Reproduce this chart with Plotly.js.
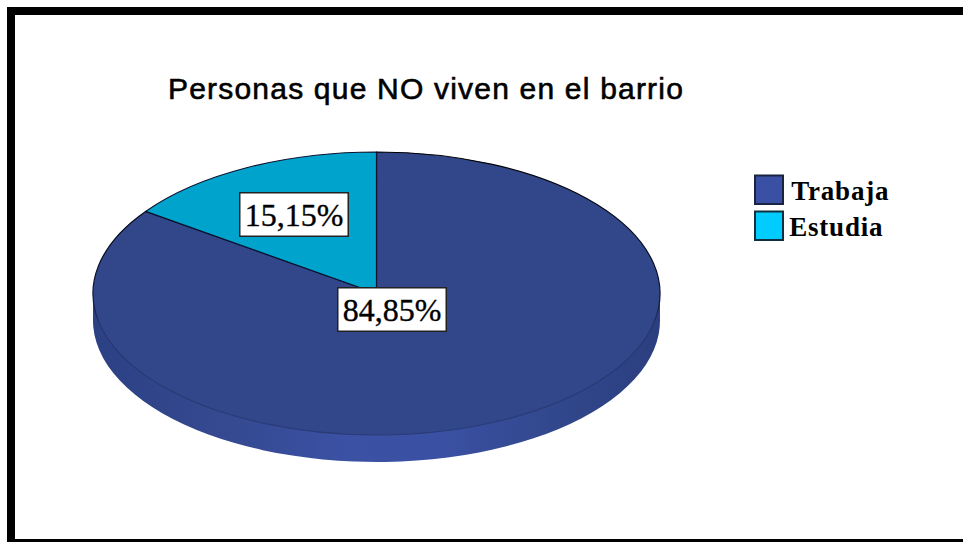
<!DOCTYPE html>
<html>
<head>
<meta charset="utf-8">
<script src="https://cdn.plot.ly/plotly-3.0.1.min.js"></script>
<style>
html,body{margin:0;padding:0;background:#fff;overflow:hidden}
#chart{width:963px;height:542px}
</style>
</head>
<body>
<div id="chart"></div>
<script>
const chartTitle = 'Personas que NO viven en el barrio';
const categories = ['Trabaja', 'Estudia'];
const shares = [84.85, 15.15];
const topColors = ['#31478a', '#00a3cc'];
const legendColors = ['#3a50a5', '#00ccff'];

const W = 963, H = 542;
const px = x => x / W, py = y => 1 - y / H;
const cx = 376.5, cy = 293.5, rx = 283.5, ry = 141.5, depth = 27;

const fmt = v => v.toFixed(2).replace('.', ',') + '%';
const pieDomain = yc => ({
  x: [px(cx - ry), px(cx + ry)],
  y: [py(yc + ry), py(yc - ry)]
});
const rect = (x0, y0, x1, y1, fill, line, layer) => ({
  type: 'rect', xref: 'paper', yref: 'paper',
  x0: px(x0), x1: px(x1), y0: py(y1), y1: py(y0),
  fillcolor: fill, line: line || {width: 0}, layer: layer || 'above'
});
const label = (x, y, text, size, font, extra) => Object.assign({
  xref: 'paper', yref: 'paper', x: px(x), y: py(y), showarrow: false,
  text: text, font: {family: font, size: size, color: '#000'}
}, extra);

const traces = [
  {type: 'pie', labels: categories, values: shares, sort: false, direction: 'clockwise', rotation: 0,
   domain: pieDomain(cy + depth), textinfo: 'none', hoverinfo: 'skip', showlegend: false,
   marker: {colors: ['#3a50a5', '#3a50a5'], line: {width: 0}}},
  {type: 'pie', labels: categories, values: shares, sort: false, direction: 'clockwise', rotation: 0,
   domain: pieDomain(cy), textinfo: 'none', hoverinfo: 'skip', showlegend: false,
   marker: {colors: topColors, line: {color: '#0c1230', width: 1.2}}}
];

const serif = '"Liberation Serif", serif';
const valueBox = {xanchor: 'center', yanchor: 'middle', bgcolor: '#fff', bordercolor: '#222', borderwidth: 1.5, width: 107, height: 42, borderpad: 0};
const layout = {
  width: W, height: H, margin: {l: 0, r: 0, t: 0, b: 0},
  paper_bgcolor: '#fff', showlegend: false,
  title: {text: chartTitle, x: px(168), xanchor: 'left', xref: 'paper', y: py(88), yanchor: 'middle', yref: 'paper',
          font: {family: '"Liberation Sans", Arial, sans-serif', size: 30, color: '#000'}},
  shapes: [
    rect(cx - rx, cy, cx + rx, cy + depth, '#3a50a5', null, 'below'),
    rect(7, 7, 15, 539, '#000'), rect(7, 7, 963, 15, '#000'), rect(7, 539, 963, 542, '#000'),
    rect(755, 175.5, 783, 204, legendColors[0], {color: '#1a2440', width: 2}),
    rect(755, 211.5, 783, 240, legendColors[1], {color: '#10303f', width: 2})
  ],
  annotations: [
    label(293.5, 214, fmt(shares[1]), 32, serif, valueBox),
    label(391.5, 309, fmt(shares[0]), 32, serif, valueBox),
    label(791.5, 191, '<b>' + categories[0] + '</b>', 27, serif, {xanchor: 'left'}),
    label(789.5, 227, '<b>' + categories[1] + '</b>', 27, serif, {xanchor: 'left'})
  ]
};

Plotly.newPlot('chart', traces, layout, {staticPlot: true, displayModeBar: false}).then(() => {
  const svg = document.querySelector('#chart .main-svg');
  const ns = 'http://www.w3.org/2000/svg';
  const defs = svg.querySelector('defs') || svg.insertBefore(document.createElementNS(ns, 'defs'), svg.firstChild);
  const addGradient = (id, vertical, stops) => {
    const grad = document.createElementNS(ns, 'linearGradient');
    grad.id = id;
    if (vertical) { grad.setAttribute('x2', '0'); grad.setAttribute('y2', '1'); }
    stops.forEach(s => {
      const st = document.createElementNS(ns, 'stop');
      st.setAttribute('offset', s[0]);
      st.setAttribute('stop-color', s[1]);
      grad.appendChild(st);
    });
    defs.appendChild(grad);
  };
  addGradient('sideShade', false, [[0, '#2c4084'], [0.22, '#34498f'], [0.45, '#3b51a4'], [0.62, '#3a50a2'], [0.85, '#304689'], [1, '#2b3f80']]);
  addGradient('edgeShade', true, [[0, '#000'], [0.5, '#0c1230'], [0.62, '#26356e'], [1, '#2a3b78']]);

  const k = rx / ry;
  const pies = document.querySelectorAll('#chart .pielayer .trace');
  pies.forEach(g => {
    g.setAttribute('transform', `translate(${cx},0) scale(${k},1) translate(${-cx},0)`);
    g.querySelectorAll('path').forEach(p => p.style.vectorEffect = 'non-scaling-stroke');
  });
  pies[0].querySelectorAll('path.surface').forEach(p => p.style.fill = 'url(#sideShade)');
  pies[1].querySelectorAll('path.surface')[0].style.stroke = 'url(#edgeShade)';
  const sideRect = document.querySelector('#chart .layer-below .shapelayer path');
  if (sideRect) sideRect.style.fill = 'url(#sideShade)';

  const titleText = document.querySelector('#chart .gtitle');
  if (titleText) {
    titleText.style.letterSpacing = '1.2px';
    titleText.style.stroke = '#000';
    titleText.style.strokeWidth = '0.6px';
  }
  const notes = document.querySelectorAll('#chart .annotation-text');
  notes.forEach((t, i) => {
    if (i < 2) { t.style.stroke = '#000'; t.style.strokeWidth = '0.35px'; }
    else { t.style.letterSpacing = '0.8px'; }
  });
});
</script>
</body>
</html>
